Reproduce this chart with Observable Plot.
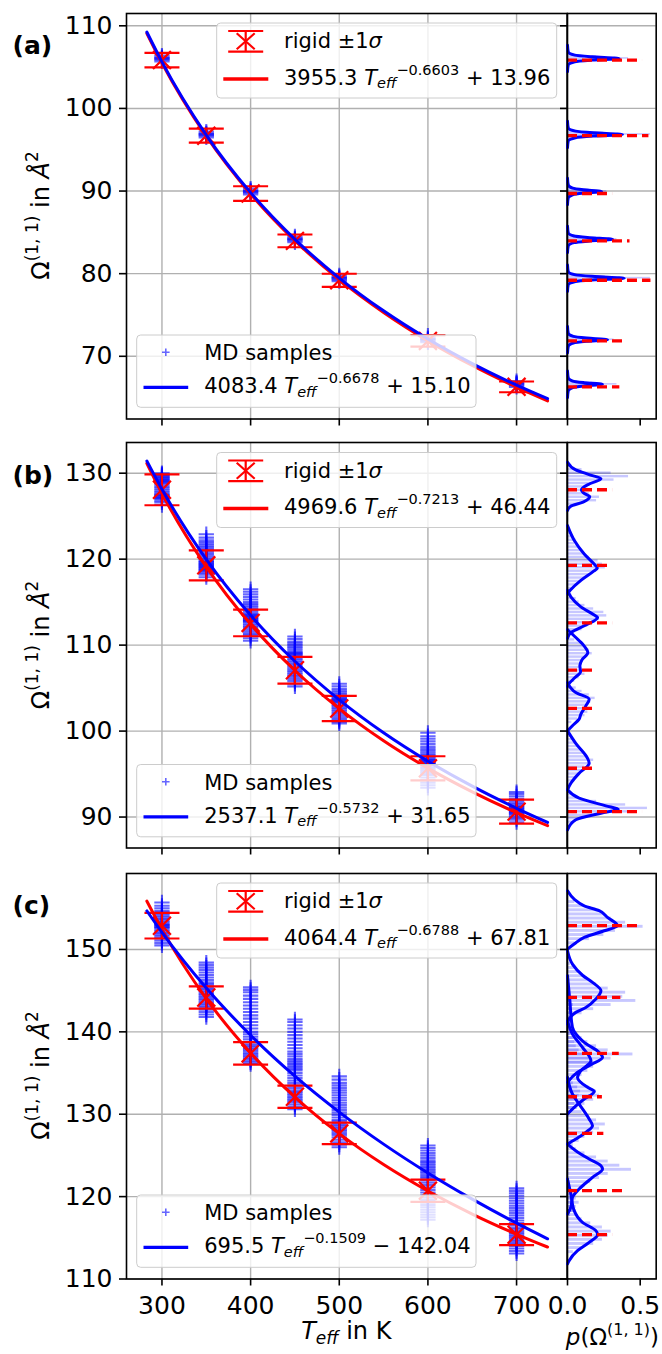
<!DOCTYPE html>
<html><head><meta charset="utf-8">
<script src="https://cdn.jsdelivr.net/npm/d3@7"></script>
<script src="https://cdn.jsdelivr.net/npm/@observablehq/plot@0.6"></script>
<style>
body{margin:0;background:#fff;}
#root{position:relative;width:662px;height:1354px;overflow:hidden;font-family:"DejaVu Sans",sans-serif;background:#fff;}
#root > svg{position:absolute;}
</style></head><body><div id="root"></div>
<script>
// ---------------- data ----------------
const temps = [300, 350, 400, 450, 500, 600, 700];
const panelNames = ["(a)", "(b)", "(c)"];
const xTicks = [300, 400, 500, 600, 700];
const pTicks = [0, 0.5];
const yTicksA = [70, 80, 90, 100, 110];
const yTicksB = [90, 100, 110, 120, 130];
const yTicksC = [110, 120, 130, 140, 150];

// rigid mean ±1 sigma
const rigidMeanA = [105.85, 96.7, 89.7, 83.97, 79.2, 71.86, 66.3];
const rigidSigmaA = [0.87, 0.85, 0.88, 0.77, 0.79, 0.69, 0.65];
const rigidMeanB = [128.07, 119.28, 112.58, 107.08, 102.63, 95.67, 90.63];
const rigidSigmaB = [1.8, 1.75, 1.55, 1.55, 1.47, 1.4, 1.4];
const rigidMeanC = [152.88, 144.17, 137.38, 132.12, 127.67, 120.72, 115.38];
const rigidSigmaC = [1.55, 1.35, 1.37, 1.35, 1.3, 1.35, 1.27];
// length of red dashed markers in the density panels
const dashLenA = [0.516, 0.56, 0.31, 0.43, 0.574, 0.40, 0.36];
const dashLenB = [0.31, 0.29, 0.31, 0.195, 0.195, 0.195, 0.516];
const dashLenC = [0.505, 0.367, 0.356, 0.24, 0.25, 0.38, 0.31];

// fitted curves
const fitT = [283, 300, 350, 400, 450, 500, 550, 600, 650, 700, 735];
const fitRigidA = [109.08, 105.49, 96.63, 89.65, 83.99, 79.28, 75.30, 71.87, 68.89, 66.27, 64.61];
const fitMDA = [109.23, 105.63, 96.78, 89.81, 84.16, 79.47, 75.50, 72.09, 69.12, 66.51, 64.87];
const fitRigidB = [131.14, 127.64, 119.10, 112.43, 107.05, 102.62, 98.88, 95.69, 92.93, 90.51, 88.99];
const fitMDB = [131.42, 128.13, 119.97, 113.47, 108.12, 103.64, 99.81, 96.50, 93.59, 91.02, 89.38];
const fitRigidC = [155.86, 152.44, 144.03, 137.43, 132.08, 127.64, 123.89, 120.68, 117.88, 115.43, 113.88];
const fitMDC = [154.68, 152.08, 145.32, 139.59, 134.62, 130.26, 126.37, 122.87, 119.69, 116.78, 114.88];

// legend texts: coefficient, exponent, offset
const rigidCoef = ["3955.3", "4969.6", "4064.4"];
const rigidExp = ["\u22120.6603", "\u22120.7213", "\u22120.6788"];
const rigidOff = ["+ 13.96", "+ 46.44", "+ 67.81"];
const mdCoef = ["4083.4", "2537.1", "695.5"];
const mdExp = ["\u22120.6678", "\u22120.5732", "\u22120.1509"];
const mdOff = ["+ 15.10", "+ 31.65", "\u2212 142.04"];

// MD samples per temperature
const mdA = [
  [105.7, 105.9, 106.0, 106.1, 106.2, 106.4],
  [96.5, 96.7, 96.8, 96.9, 97.0, 97.2],
  [89.6, 89.8, 89.9, 90.0, 90.1, 90.3],
  [83.8, 84.0, 84.1, 84.2, 84.3, 84.5],
  [79.1, 79.3, 79.4, 79.5, 79.6, 79.8],
  [71.7, 71.9, 72.0, 72.1, 72.2, 72.5],
  [66.3, 66.5, 66.6, 66.7, 66.8, 67.0]
];
const mdB = [
  [126.3, 126.6, 126.8, 127.0, 127.1, 127.2, 127.3, 127.4, 127.5, 127.6, 127.8, 128.0, 128.2, 128.4, 128.6, 128.8, 128.9, 129.0, 129.1, 129.2, 129.3, 129.4, 129.5, 129.6, 129.7, 129.8, 129.9, 130.0],
  [117.9, 118.2, 118.4, 118.6, 118.7, 118.8, 118.9, 119.0, 119.1, 119.2, 119.3, 119.4, 119.5, 119.6, 119.7, 119.8, 120.0, 120.2, 120.4, 120.6, 120.8, 121.0, 121.2, 121.4, 121.6, 121.8, 122.0, 122.2, 122.5, 122.9],
  [110.5, 110.8, 111.1, 111.3, 111.5, 111.7, 111.9, 112.1, 112.3, 112.5, 112.7, 112.8, 112.9, 113.0, 113.1, 113.2, 113.3, 113.4, 113.5, 113.6, 113.8, 114.0, 114.2, 114.4, 114.6, 114.8, 115.0, 115.3, 115.6, 115.9, 116.2, 116.5],
  [105.2, 105.5, 105.8, 106.0, 106.2, 106.4, 106.6, 106.8, 107.0, 107.2, 107.4, 107.6, 107.8, 108.0, 108.2, 108.4, 108.6, 108.8, 108.9, 109.0, 109.1, 109.2, 109.4, 109.6, 109.8, 110.0, 110.2, 110.4, 110.7, 111.0],
  [100.9, 101.1, 101.3, 101.5, 101.7, 101.9, 102.1, 102.3, 102.5, 102.7, 102.9, 103.1, 103.3, 103.4, 103.5, 103.6, 103.7, 103.8, 103.9, 104.1, 104.3, 104.5, 104.7, 104.9, 105.2, 105.5],
  [93.4, 93.7, 94.0, 94.3, 94.6, 94.9, 95.1, 95.3, 95.5, 95.7, 95.9, 96.1, 96.2, 96.3, 96.4, 96.5, 96.6, 96.7, 96.8, 97.0, 97.2, 97.4, 97.6, 97.8, 98.0, 98.2, 98.5, 98.8, 99.1, 99.4, 99.8],
  [89.4, 89.7, 89.9, 90.1, 90.3, 90.4, 90.5, 90.6, 90.7, 90.8, 90.9, 91.0, 91.1, 91.2, 91.3, 91.5, 91.7, 91.9, 92.1, 92.4, 92.7, 92.9]
];
const mdC = [
  [150.5, 150.8, 151.1, 151.4, 151.6, 151.8, 152.0, 152.2, 152.4, 152.6, 152.7, 152.8, 152.9, 153.0, 153.1, 153.3, 153.5, 153.7, 153.9, 154.1, 154.3, 154.5, 154.7, 155.0, 155.3, 155.7],
  [141.8, 142.1, 142.4, 142.7, 143.0, 143.2, 143.4, 143.6, 143.8, 144.0, 144.2, 144.4, 144.6, 144.8, 145.0, 145.2, 145.4, 145.6, 145.8, 146.0, 146.3, 146.6, 146.9, 147.2, 147.5, 147.8, 148.1, 148.4],
  [136.1, 136.3, 136.5, 136.7, 136.9, 137.1, 137.3, 137.5, 137.7, 137.9, 138.1, 138.3, 138.5, 138.8, 139.1, 139.4, 139.7, 140.0, 140.4, 140.8, 141.2, 141.6, 142.0, 142.4, 142.8, 143.2, 143.6, 144.0, 144.4, 144.8, 145.1, 145.4],
  [130.6, 130.9, 131.2, 131.5, 131.7, 131.9, 132.1, 132.3, 132.5, 132.7, 132.9, 133.2, 133.5, 133.8, 134.1, 134.4, 134.7, 135.0, 135.3, 135.5, 135.7, 135.9, 136.1, 136.3, 136.5, 136.7, 137.0, 137.3, 137.6, 138.0, 138.4, 138.8, 139.2, 139.6, 140.0, 140.4, 140.8, 141.2, 141.5],
  [126.0, 126.3, 126.6, 126.9, 127.2, 127.5, 127.7, 127.9, 128.1, 128.3, 128.5, 128.7, 128.9, 129.1, 129.3, 129.6, 129.9, 130.2, 130.5, 130.8, 131.1, 131.4, 131.7, 132.0, 132.3, 132.6, 132.9, 133.2, 133.5, 133.8, 134.2, 134.6],
  [117.2, 117.5, 117.8, 118.1, 118.4, 118.7, 119.0, 119.3, 119.6, 119.9, 120.2, 120.5, 120.8, 121.1, 121.4, 121.7, 122.0, 122.2, 122.4, 122.6, 122.8, 123.0, 123.2, 123.4, 123.6, 123.8, 124.0, 124.2, 124.4, 124.7, 125.0, 125.3, 125.6, 125.9, 126.2],
  [113.1, 113.4, 113.7, 114.0, 114.2, 114.4, 114.6, 114.8, 115.0, 115.2, 115.4, 115.6, 115.8, 116.0, 116.2, 116.5, 116.8, 117.1, 117.4, 117.7, 118.0, 118.3, 118.6, 118.9, 119.2, 119.5, 119.8, 120.1, 120.4, 120.7, 121.0]
];

// density curves per temperature: [Omega, p]
const kdeA = [
  [[107.65,0],[106.85,0.005],[106.45,0.05],[106.25,0.17],[106.05,0.355],[105.85,0.17],[105.65,0.05],[105.25,0.005],[104.45,0]],
  [[98.45,0],[97.65,0.005],[97.25,0.055],[97.05,0.18],[96.85,0.378],[96.65,0.18],[96.45,0.055],[96.05,0.005],[95.25,0]],
  [[91.55,0],[90.75,0.005],[90.35,0.035],[90.15,0.11],[89.95,0.234],[89.75,0.11],[89.55,0.035],[89.15,0.005],[88.35,0]],
  [[85.75,0],[84.95,0.005],[84.55,0.045],[84.35,0.15],[84.15,0.31],[83.95,0.15],[83.75,0.045],[83.35,0.005],[82.55,0]],
  [[81.05,0],[80.25,0.005],[79.85,0.055],[79.65,0.19],[79.45,0.39],[79.25,0.19],[79.05,0.055],[78.65,0.005],[77.85,0]],
  [[73.6,0],[72.8,0.005],[72.4,0.04],[72.2,0.13],[72.0,0.275],[71.8,0.13],[71.6,0.04],[71.2,0.005],[70.4,0]],
  [[68.2,0],[67.4,0.005],[67.0,0.035],[66.8,0.115],[66.6,0.24],[66.4,0.115],[66.2,0.035],[65.8,0.005],[65.0,0]]
];
const kdeB = [
  [[131.28,0],[130.39,0.057],[129.81,0.153],[129.35,0.23],[128.77,0.153],[128.07,0.096],[127.60,0.119],[127.29,0.153],[126.64,0.107],[126.13,0.02],[125.67,0]],
  [[123.9,0],[122.2,0.046],[120.6,0.115],[119.3,0.19],[118.95,0.205],[118.6,0.18],[117.5,0.09],[116.4,0.02],[116.0,0]],
  [[116.38,0],[115.61,0.023],[114.45,0.092],[113.49,0.184],[113.22,0.207],[112.33,0.126],[111.44,0.023],[110.78,0]],
  [[111.8,0],[111.0,0.05],[110.0,0.11],[109.1,0.14],[108.3,0.1],[107.6,0.085],[106.9,0.09],[106.2,0.05],[105.5,0.01],[105.2,0]],
  [[105.64,0],[104.48,0.057],[103.71,0.149],[102.93,0.126],[101.97,0.092],[101.39,0.08],[100.62,0.034],[100.03,0]],
  [[100.03,0],[98.57,0.057],[96.83,0.138],[96.25,0.149],[95.09,0.08],[93.93,0.023],[93.16,0]],
  [[93.16,0],[92.19,0.08],[91.30,0.264],[90.91,0.349],[90.44,0.23],[89.67,0.057],[88.51,0]]
];
const kdeC = [
  [[157.12,0],[156.11,0.046],[155.30,0.115],[154.70,0.218],[153.89,0.275],[152.88,0.344],[152.27,0.253],[151.46,0.115],[150.65,0.046],[150.04,0]],
  [[149.84,0],[148.22,0.034],[146.81,0.107],[146.0,0.172],[144.99,0.23],[143.98,0.195],[142.96,0.126],[142.36,0.057],[141.55,0.011],[140.94,0]],
  [[146.81,0],[143.77,0.016],[140.54,0.034],[138.72,0.115],[137.5,0.218],[136.9,0.241],[136.0,0.161],[135.08,0.069],[133.86,0]],
  [[141.35,0],[139.73,0.034],[138.11,0.103],[136.49,0.161],[135.28,0.092],[134.47,0.069],[133.26,0.138],[132.77,0.184],[131.84,0.115],[130.83,0.046],[130.02,0]],
  [[134.47,0],[132.45,0.034],[131.23,0.08],[129.41,0.149],[128.6,0.172],[127.8,0.126],[126.99,0.057],[126.38,0]],
  [[126.38,0],[125.57,0.057],[124.56,0.149],[123.75,0.23],[123.35,0.241],[122.33,0.172],[120.92,0.08],[119.91,0.034],[118.7,0.023],[117.88,0]],
  [[122.13,0],[120.31,0.023],[118.29,0.046],[116.87,0.103],[115.86,0.195],[115.38,0.207],[114.44,0.149],[113.43,0.069],[112.22,0.011],[111.82,0]]
];

// histograms per temperature: first bin edge, bin width, bar heights
const histWidth = [0.2, 0.4, 0.5];
const histStartA = [105.35, 96.15, 89.25, 83.45, 78.75, 71.3, 65.9];
const histA = [
  [0.02,0.05,0.18,0.42,0.20,0.05,0.02],
  [0.02,0.06,0.22,0.57,0.25,0.06,0.02],
  [0.02,0.05,0.14,0.27,0.15,0.04,0.02],
  [0.02,0.06,0.18,0.34,0.20,0.05,0.02],
  [0.02,0.07,0.24,0.57,0.26,0.06,0.02],
  [0.02,0.05,0.16,0.32,0.18,0.05,0.02],
  [0.02,0.05,0.16,0.34,0.17,0.05,0.02]
];
const histStartB = [125.8, 116.4, 110.8, 105.2, 100.8, 93.2, 89.2];
const histB = [
  [0.03,0.08,0.20,0.22,0.15,0.12,0.14,0.18,0.32,0.42,0.30,0.10,0.03],
  [0.03,0.06,0.10,0.12,0.16,0.20,0.26,0.24,0.21,0.15,0.12,0.10,0.07,0.05,0.06,0.03,0.02,0.01],
  [0.02,0.05,0.10,0.14,0.16,0.22,0.27,0.25,0.18,0.12,0.08,0.06,0.03,0.02],
  [0.02,0.05,0.08,0.12,0.10,0.09,0.08,0.11,0.13,0.17,0.15,0.12,0.09,0.05,0.02],
  [0.03,0.07,0.12,0.14,0.11,0.13,0.16,0.19,0.15,0.10,0.06,0.02],
  [0.02,0.03,0.05,0.07,0.09,0.10,0.12,0.16,0.18,0.14,0.12,0.10,0.08,0.06,0.04,0.02,0.01],
  [0.03,0.08,0.20,0.45,0.55,0.40,0.20,0.08,0.03]
];
const histStartC = [150.5, 141.5, 136.0, 130.5, 126.0, 117.5, 113.0];
const histC = [
  [0.05,0.15,0.25,0.33,0.52,0.40,0.30,0.26,0.20,0.12,0.05],
  [0.04,0.10,0.18,0.30,0.47,0.38,0.40,0.28,0.20,0.15,0.12,0.08,0.05,0.02],
  [0.18,0.30,0.45,0.28,0.20,0.14,0.10,0.07,0.05,0.04,0.03,0.03,0.02,0.03,0.04,0.03,0.02,0.02,0.01],
  [0.06,0.12,0.18,0.22,0.20,0.15,0.10,0.08,0.10,0.14,0.18,0.20,0.16,0.12,0.08,0.06,0.05,0.04,0.03,0.03,0.02,0.01],
  [0.04,0.08,0.12,0.18,0.22,0.26,0.20,0.15,0.10,0.07,0.05,0.06,0.08,0.09,0.07,0.04,0.02],
  [0.02,0.04,0.06,0.08,0.06,0.05,0.08,0.12,0.16,0.22,0.28,0.44,0.36,0.28,0.20,0.12,0.06,0.02],
  [0.04,0.10,0.18,0.24,0.28,0.30,0.24,0.16,0.10,0.07,0.06,0.05,0.04,0.03,0.03,0.02]
];

// ---------------- layout ----------------
const yDomains = [[62.41, 111.49], [86.4, 133.57], [110, 159.22]];
const xDomain = [260, 757];
const pDomain = [0, 0.61];
const FT = [12.7, 442.2, 872.7];
const FH = 405.5;
const ML = 126, XR = 566.6, SR = 655.3;
const BLUE = "#0000ff", RED = "#ff0000", GRID = "#b0b0b0";
const histInset = [0, 0.5, 0.6];

const yTicks = [yTicksA, yTicksB, yTicksC];
const rigidMean = [rigidMeanA, rigidMeanB, rigidMeanC];
const rigidSigma = [rigidSigmaA, rigidSigmaB, rigidSigmaC];
const dashLen = [dashLenA, dashLenB, dashLenC];
const fitRigid = [fitRigidA, fitRigidB, fitRigidC];
const fitMD = [fitMDA, fitMDB, fitMDC];
const mdSamples = [mdA, mdB, mdC];
const kdes = [kdeA, kdeB, kdeC];
const histStarts = [histStartA, histStartB, histStartC];
const hists = [histA, histB, histC];

const root = document.getElementById("root");
const baseStyle = {fontFamily: '"DejaVu Sans", sans-serif', fontSize: "25px", background: "transparent", overflow: "visible", color: "black"};
const capSymbol = {draw(ctx) { ctx.moveTo(-17.5, 0); ctx.lineTo(17.5, 0); }};

function mainPlot(i) {
  const samples = mdSamples[i].flatMap((vals, k) => vals.map(v => ({T: temps[k], v})));
  const rigid = temps.map((T, k) => ({T, v: rigidMean[i][k], s: rigidSigma[i][k]}));
  const fits = fitT.map((T, k) => ({T, r: fitRigid[i][k], m: fitMD[i][k]}));
  const last = i === 2;
  const svg = Plot.plot({
    width: 567, height: 10 + FH + 70,
    marginTop: 10, marginBottom: 70, marginLeft: ML, marginRight: 567 - XR,
    style: baseStyle,
    x: {domain: xDomain, label: null},
    y: {domain: yDomains[i], label: null},
    marks: [
      Plot.gridX(xTicks, {stroke: GRID, strokeOpacity: 1, strokeWidth: 1.4}),
      Plot.gridY(yTicks[i], {stroke: GRID, strokeOpacity: 1, strokeWidth: 1.4}),
      Plot.dot(samples, {x: "T", y: "v", symbol: "plus", r: 5, fill: "none", stroke: BLUE, strokeOpacity: 0.6, strokeWidth: 2.1}),
      Plot.ruleX(rigid, {x: "T", y1: d => d.v - d.s, y2: d => d.v + d.s, stroke: RED, strokeWidth: 2.2}),
      Plot.dot(rigid, {x: "T", y: d => d.v + d.s, symbol: capSymbol, r: 5, fill: "none", stroke: RED, strokeWidth: 2.2}),
      Plot.dot(rigid, {x: "T", y: d => d.v - d.s, symbol: capSymbol, r: 5, fill: "none", stroke: RED, strokeWidth: 2.2}),
      Plot.dot(rigid, {x: "T", y: "v", symbol: "times", r: 8.2, fill: "none", stroke: RED, strokeWidth: 2.2}),
      Plot.line(fits, {x: "T", y: "r", stroke: RED, strokeWidth: 3, curve: "monotone-x"}),
      Plot.line(fits, {x: "T", y: "m", stroke: BLUE, strokeWidth: 3, curve: "monotone-x"}),
      Plot.axisY(yTicks[i], {anchor: "left", tickSize: 7, tickPadding: 7, strokeWidth: 1.6, label: null}),
      Plot.axisX(xTicks, {anchor: "bottom", tickSize: 7, tickPadding: 10, strokeWidth: 1.6, label: null,
        tickFormat: last ? (d => String(d)) : (() => "")}),
      Plot.frame({stroke: "black", strokeWidth: 1.6})
    ]
  });
  svg.style.left = "0px";
  svg.style.top = (FT[i] - 10) + "px";
  root.appendChild(svg);
}

function sidePlot(i) {
  const hist = hists[i].flatMap((vals, k) => vals.map((p, j) => ({
    T: temps[k], lo: histStarts[i][k] + j * histWidth[i], hi: histStarts[i][k] + (j + 1) * histWidth[i], p})));
  const kde = kdes[i].flatMap((pts, k) => pts.map(([v, p]) => ({T: temps[k], v, p})).sort((a, b) => a.v - b.v));
  const rigid = temps.map((T, k) => ({T, v: rigidMean[i][k], len: dashLen[i][k]}));
  const last = i === 2;
  const W = SR - XR + 10;
  const svg = Plot.plot({
    width: W, height: 10 + FH + 70,
    marginTop: 10, marginBottom: 70, marginLeft: 10, marginRight: 0,
    style: baseStyle,
    x: {domain: pDomain, label: null},
    y: {domain: yDomains[i], label: null},
    marks: [
      Plot.gridY(yTicks[i], {stroke: GRID, strokeOpacity: 1, strokeWidth: 1.4}),
      Plot.rectX(hist, {x1: 0, x2: "p", y1: "lo", y2: "hi", fill: BLUE, fillOpacity: 0.22,
        insetTop: histInset[i], insetBottom: histInset[i]}),
      Plot.line(kde, {x: "p", y: "v", z: "T", stroke: BLUE, strokeWidth: 3, curve: "monotone-y"}),
      Plot.ruleY(rigid, {y: "v", x1: 0, x2: "len", stroke: RED, strokeWidth: 3.3, strokeDasharray: "10,5"}),
      Plot.axisY(yTicks[i], {anchor: "left", tickSize: 7, strokeWidth: 1.6, label: null, tickFormat: () => ""}),
      Plot.axisX(pTicks, {anchor: "bottom", tickSize: 7, tickPadding: 10, strokeWidth: 1.6, label: null,
        tickFormat: last ? (d => d.toFixed(1)) : (() => "")}),
      Plot.frame({stroke: "black", strokeWidth: 1.6})
    ]
  });
  svg.style.left = (XR - 10) + "px";
  svg.style.top = (FT[i] - 10) + "px";
  root.appendChild(svg);
}

[0, 1, 2].forEach(i => { mainPlot(i); sidePlot(i); });

// ---------------- overlay: labels and legends ----------------
const ov = d3.select(root).append("svg")
  .attr("width", 662).attr("height", 1354)
  .style("left", "0px").style("top", "0px")
  .attr("font-family", '"DejaVu Sans", sans-serif')
  .style("white-space", "pre");

function rich(g, x, y, size, parts, anchor) {
  const t = g.append("text").attr("x", x).attr("y", y).attr("font-size", size)
    .attr("text-anchor", anchor || "start").attr("fill", "black").style("white-space", "pre");
  let cur = 0;
  for (const p of parts) {
    const shift = p.shift || 0;
    const ts = t.append("tspan").text(p.t).attr("dy", shift - cur);
    cur = shift;
    if (p.size) ts.attr("font-size", p.size);
    if (p.italic) ts.attr("font-style", "italic");
  }
  return t;
}

for (let i = 0; i < 3; i++) {
  const top = FT[i];
  // panel letter
  ov.append("text").attr("x", 12.5).attr("y", top + 41.3).attr("font-size", 25)
    .attr("font-weight", "bold").text(panelNames[i]);
  // y label
  const gy = ov.append("g").attr("transform", `translate(48.5,${top + FH / 2}) rotate(-90)`);
  rich(gy, 0, 0, 24, [
    {t: "\u03a9"}, {t: "(1, 1)", size: 17, shift: -11}, {t: " in "},
    {t: "\u00c5", italic: true}, {t: "2", size: 17, shift: -11}
  ], "middle");

  // upper legend (rigid)
  const gu = ov.append("g");
  gu.append("rect").attr("x", 216.7).attr("y", top + 10.3).attr("width", 340).attr("height", 75)
    .attr("rx", 4).attr("fill", "white").attr("fill-opacity", 0.8).attr("stroke", "#cccccc").attr("stroke-width", 1);
  const cx = 245.7, cy = top + 28.6;
  gu.append("line").attr("x1", cx).attr("x2", cx).attr("y1", cy - 10.3).attr("y2", cy + 10.3).attr("stroke", RED).attr("stroke-width", 2.2);
  [-10.3, 10.3].forEach(o => gu.append("line").attr("x1", cx - 17.5).attr("x2", cx + 17.5)
    .attr("y1", cy + o).attr("y2", cy + o).attr("stroke", RED).attr("stroke-width", 2.2));
  gu.append("path").attr("d", `M${cx - 9},${cy - 8}L${cx + 9},${cy + 8}M${cx - 9},${cy + 8}L${cx + 9},${cy - 8}`)
    .attr("stroke", RED).attr("stroke-width", 2.2).attr("fill", "none");
  rich(gu, 284, top + 35.3, 21, [{t: "rigid \u00b11"}, {t: "\u03c3", italic: true}]);
  gu.append("line").attr("x1", 223.3).attr("x2", 268.3).attr("y1", top + 66.3).attr("y2", top + 66.3)
    .attr("stroke", RED).attr("stroke-width", 3.3);
  rich(gu, 284, top + 72, 21, [
    {t: rigidCoef[i] + " "}, {t: "T", italic: true}, {t: "eff", italic: true, size: 14.5, shift: 3.5},
    {t: rigidExp[i], size: 14.5, shift: -10}, {t: " " + rigidOff[i]}
  ]);

  // lower legend (MD)
  const gl = ov.append("g");
  gl.append("rect").attr("x", 136.7).attr("y", top + 322.3).attr("width", 339.3).attr("height", 72.3)
    .attr("rx", 4).attr("fill", "white").attr("fill-opacity", 0.8).attr("stroke", "#cccccc").attr("stroke-width", 1);
  const px = 165.8, py = top + 339.6;
  gl.append("path").attr("d", `M${px - 3.8},${py}L${px + 3.8},${py}M${px},${py - 3.8}L${px},${py + 3.8}`)
    .attr("stroke", BLUE).attr("stroke-opacity", 0.6).attr("stroke-width", 1.6).attr("fill", "none");
  rich(gl, 204.2, top + 347.3, 21, [{t: "MD samples"}]);
  gl.append("line").attr("x1", 143.5).attr("x2", 188.2).attr("y1", top + 374.6).attr("y2", top + 374.6)
    .attr("stroke", BLUE).attr("stroke-width", 3.3);
  rich(gl, 204.2, top + 380.6, 21, [
    {t: mdCoef[i] + " "}, {t: "T", italic: true}, {t: "eff", italic: true, size: 14.5, shift: 3.5},
    {t: mdExp[i], size: 14.5, shift: -10}, {t: " " + mdOff[i]}
  ]);
}

// x labels
rich(ov, (ML + XR) / 2, 1339, 24, [{t: "T", italic: true}, {t: "eff", italic: true, size: 17, shift: 5}, {t: " in K"}], "middle");
rich(ov, 659, 1345, 23, [{t: "p", italic: true}, {t: "(\u03a9"}, {t: "(1, 1)", size: 16, shift: -10}, {t: ")"}], "end");
</script>
</body></html>
